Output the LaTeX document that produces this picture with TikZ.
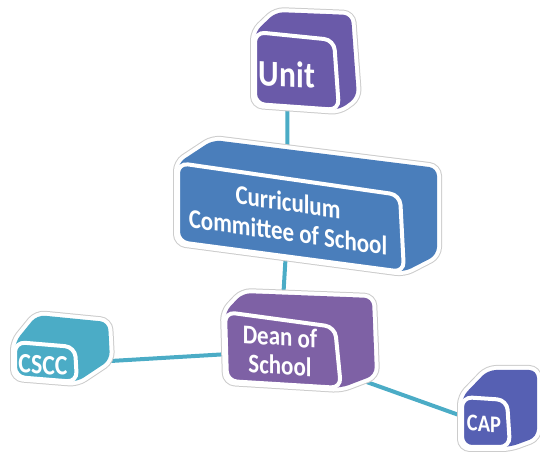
\documentclass[tikz,border=0pt]{standalone}
\usepackage{fontspec}
\setmainfont{Carlito}
\usetikzlibrary{backgrounds}

\definecolor{unitcol}{HTML}{6A5AA9}
\definecolor{ccscol}{HTML}{4A7EBB}
\definecolor{deancol}{HTML}{7E61A5}
\definecolor{cscccol}{HTML}{4BACC6}
\definecolor{capcol}{HTML}{5660B3}
\definecolor{linkcol}{HTML}{4BACC6}

\begin{document}
\begin{tikzpicture}[x=0.5pt, y=-0.5pt,
  shell/.style={fill=#1, rounded corners=4pt, line join=round,
    preaction={draw=black!20, line width=5pt},
    preaction={draw=white, line width=4pt}},
  face/.style={fill=#1, draw=white, line width=2pt, rounded corners=5pt},
  label/.style={text=white, font=\bfseries, align=center, inner sep=0pt, xscale=0.85},
  link/.style={draw=linkcol, line width=2pt}]
\useasboundingbox (0,0) rectangle (540,458);

% Unit
\path[shell=unitcol] (255,104) -- (255,32) -- (276,12) -- (351,15) -- (357,97) -- (339,110) -- cycle;
\path[face=unitcol] (255,104) -- (255,32) -- (334,40) -- (339,110) -- cycle;
\node[label, font=\bfseries\fontsize{18.5}{20}\selectfont, yslant=-0.05] (unit) at (287,74) {Unit};

% curriculum committee
\path[shell=ccscol] (178,242) -- (178,163) -- (213,140) -- (437,168) -- (437,255) -- (404,272) -- cycle;
\path[face=ccscol] (178,242) -- (178,163) -- (400,195) -- (404,272) -- cycle;
\node[label, font=\bfseries\fontsize{13.5}{15}\selectfont, yslant=-0.12] (ccs) at (288,217)
  {Curriculum\\Committee of School};

% dean
\path[shell=deancol] (227,381) -- (225,312) -- (243,293) -- (372,298) -- (375,375) -- (341,388) -- cycle;
\path[face=deancol] (227,381) -- (225,312) -- (335,327) -- (341,388) -- cycle;
\node[label, font=\bfseries\fontsize{13.5}{14.5}\selectfont, yslant=-0.06] (dean) at (280,351)
  {Dean of\\School};

% CSCC
\path[shell=cscccol] (15,377) -- (15,342) -- (37,315) -- (108,322) -- (110,360) -- (77,382) -- cycle;
\path[face=cscccol] (15,377) -- (15,342) -- (75,347) -- (77,382) -- cycle;
\node[label, font=\bfseries\fontsize{14}{16}\selectfont, yslant=-0.04] (cscc) at (43,365) {CSCC};

% CAP
\path[shell=capcol] (462,447) -- (462,397) -- (488,370) -- (537,370) -- (537,437) -- (510,447) -- cycle;
\path[face=capcol] (462,447) -- (462,397) -- (507,400) -- (510,447) -- cycle;
\node[label, font=\bfseries\fontsize{12}{14}\selectfont, yslant=-0.04] (cap) at (484,424) {CAP};

% links
\begin{pgfonlayer}{background}
\draw[link] (unit) -- (ccs);
\draw[link] (ccs) -- (dean);
\draw[link] (dean) -- (cscc);
\draw[link] (dean) -- (cap);
\end{pgfonlayer}
\end{tikzpicture}
\end{document}
